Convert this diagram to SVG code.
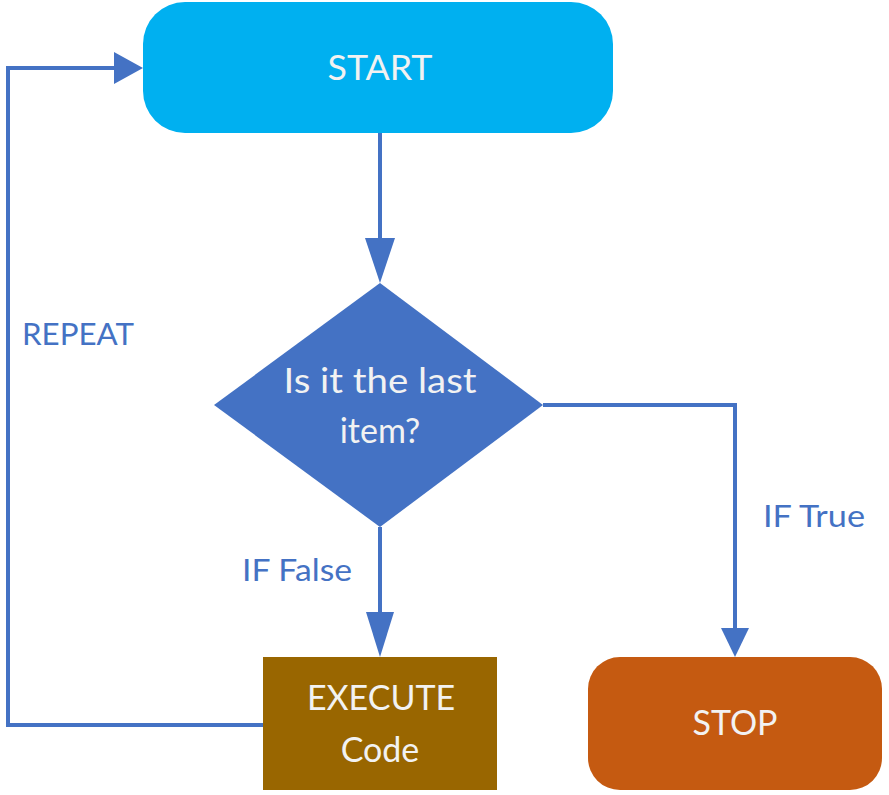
<svg xmlns="http://www.w3.org/2000/svg" width="889" height="795" viewBox="0 0 889 795">
<style>
.conn{fill:none;stroke:#4472C4;stroke-width:4;stroke-linejoin:miter}
.head{fill:#4472C4}
.nt{font-family:Lato,"Open Sans",sans-serif;fill:#F2F2F2;text-anchor:middle;font-size:34px}
.lbl{font-family:Lato,"Open Sans",sans-serif;fill:#4472C4;font-size:31px}
</style>
<rect width="889" height="795" fill="#FFFFFF"/>
<g id="connectors">
<polyline class="conn" points="263,725 8,725 8,68 118,68"/>
<polygon class="head" points="114,52 143,68 114,84"/>
<line class="conn" x1="380" y1="133" x2="380" y2="240"/>
<polygon class="head" points="365,238 395,238 380,283"/>
<line class="conn" x1="380" y1="527" x2="380" y2="615"/>
<polygon class="head" points="366,612 394,612 380,657"/>
<polyline class="conn" points="543,405 735,405 735,630"/>
<polygon class="head" points="721,628 749,628 735,657"/>
<text class="lbl" x="22" y="345" textLength="112" lengthAdjust="spacingAndGlyphs">REPEAT</text>
<text class="lbl" x="242" y="581" textLength="110" lengthAdjust="spacingAndGlyphs">IF False</text>
<text class="lbl" x="763" y="527" textLength="102" lengthAdjust="spacingAndGlyphs">IF True</text>
</g>
<g id="start">
<rect x="143" y="2" width="470" height="131" rx="42" ry="42" fill="#00B0F0"/>
<text class="nt" x="380" y="80" font-size="35" textLength="105" lengthAdjust="spacingAndGlyphs">START</text>
</g>
<g id="decision">
<polygon points="380,283 543,405 380,527 214,405" fill="#4472C4"/>
<text class="nt" x="380" y="393" font-size="34" textLength="193" lengthAdjust="spacingAndGlyphs">Is it the last</text>
<text class="nt" x="380" y="443" font-size="34">item?</text>
</g>
<g id="execute">
<rect x="263" y="657" width="234" height="133" fill="#996600"/>
<text class="nt" x="381" y="710">EXECUTE</text>
<text class="nt" x="380" y="762">Code</text>
</g>
<g id="stop">
<rect x="588" y="657" width="294" height="133" rx="32" ry="32" fill="#C55A11"/>
<text class="nt" x="735" y="735">STOP</text>
</g>
</svg>
